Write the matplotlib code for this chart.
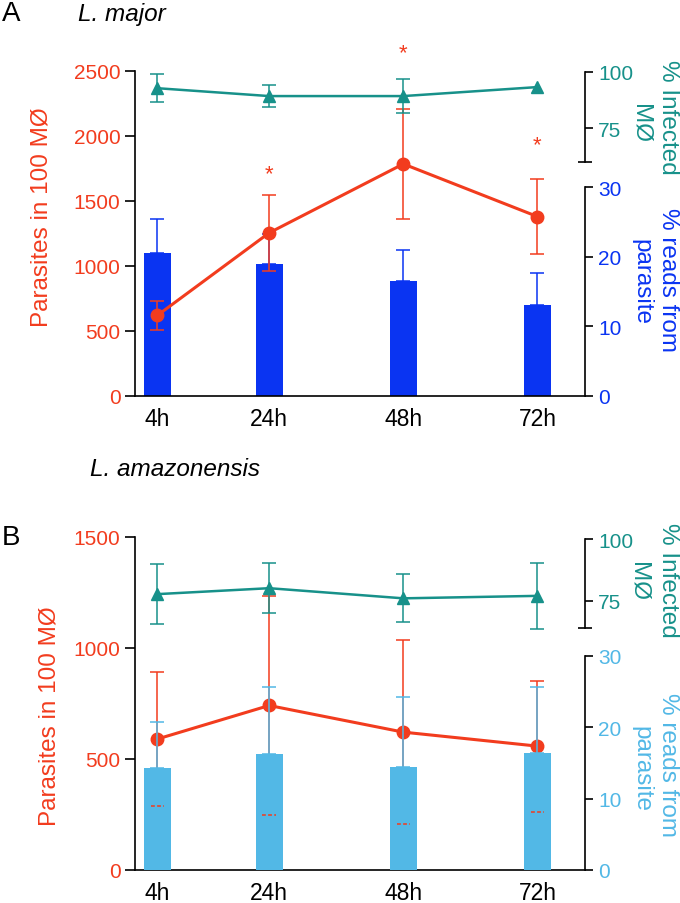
import numpy as np
import matplotlib
matplotlib.use('Agg')
import matplotlib.pyplot as plt

plt.rcParams['font.family'] = ['Liberation Sans', 'DejaVu Sans']

hours = [4, 24, 48, 72]
hour_labels = ['4h', '24h', '48h', '72h']

# panel A - L. major
major_parasites = [620, 1255, 1785, 1380]
major_parasites_err = [110, 290, 420, 290]
major_infected = [92.8, 89.3, 89.3, 93.3]
major_infected_err = [6.2, 4.8, 7.4, 0]
major_reads = [20.5, 18.9, 16.5, 13.0]
major_reads_err = [4.9, 4.3, 4.4, 4.6]
major_star_y = [None, 1710, 2640, 1930]

# panel B - L. amazonensis
amaz_parasites = [590, 741, 621, 558]
amaz_parasites_err = [300, 494, 415, 295]
amaz_infected = [77.7, 80.1, 76.0, 77.0]
amaz_infected_err = [12.2, 10.2, 9.7, 13.4]
amaz_reads = [14.3, 16.3, 14.5, 16.4]
amaz_reads_err = [6.5, 9.3, 9.7, 9.2]

red = '#F23C1E'
teal = '#17918A'
blue_a = '#0A34F2'
blue_b = '#52B8E6'

W, H = 680, 904
fig = plt.figure(figsize=(W/100, H/100), dpi=100)

def fpos(left, top, right, bottom):
    return [left/W, 1-bottom/H, (right-left)/W, (bottom-top)/H]

def panel(top, bottom, reads_top, inf_top, inf_bottom, par, par_err, pmax, pticks,
          inf, inf_err, inf_min, reads, reads_err, bar_col, red_on_top, stars=None):
    left, right = 135, 585
    ax = fig.add_axes(fpos(left, top, right, bottom))
    axr = fig.add_axes(fpos(left, reads_top, right, bottom))
    axi = fig.add_axes(fpos(left, inf_top, right, inf_bottom))
    if red_on_top:
        axr.set_zorder(1); ax.set_zorder(2); axi.set_zorder(3)
    else:
        ax.set_zorder(1); axr.set_zorder(2); axi.set_zorder(3)
    for a in (ax, axr, axi):
        a.set_xlim(0, 80.5)
        a.patch.set_visible(False)
        for s in a.spines.values():
            s.set_linewidth(1.2)

    # main axis: parasites
    ax.spines['top'].set_visible(False)
    ax.spines['right'].set_visible(False)
    ax.set_ylim(0, pmax)
    ax.set_yticks(pticks)
    ax.tick_params(axis='y', colors='black', labelcolor=red, labelsize=15, length=7, width=1.2)
    ax.set_xticks(hours)
    ax.set_xticklabels(hour_labels)
    ax.tick_params(axis='x', length=0, labelsize=16.5, pad=8)
    ax.errorbar(hours, par, yerr=par_err, color=red, lw=2.2, marker='o', ms=9,
                elinewidth=1.1, capsize=5, capthick=1.1, clip_on=False)
    if stars:
        for h, sy in zip(hours, stars):
            if sy is not None:
                ax.text(h, sy, '*', color=red, fontsize=16, ha='center', va='center')

    # reads axis: bars
    for s in ['top', 'left', 'bottom']:
        axr.spines[s].set_visible(False)
    axr.set_ylim(0, 30)
    axr.set_xticks([])
    axr.yaxis.tick_right()
    axr.set_yticks([0, 10, 20, 30])
    axr.set_yticks([30], minor=True)
    axr.tick_params(axis='y', which='major', labelcolor=bar_col, labelsize=15, length=6, width=1.2)
    axr.tick_params(axis='y', which='minor', direction='in', length=6, width=1.2)
    axr.bar(hours, reads, width=4.8, color=bar_col, linewidth=0, zorder=2)
    axr.errorbar(hours, reads, yerr=[np.zeros(len(reads)), reads_err], fmt='none',
                 ecolor=bar_col, elinewidth=1.1, capsize=5, capthick=1.1, zorder=1)
    if not red_on_top:
        lows = np.array(par) - np.array(par_err)
        for h, lo in zip(hours, lows):
            axr.plot([h-1.2, h+1.2], [lo, lo], color=red, lw=1.1, ls=(0, (2.5, 1.5)),
                     transform=ax.transData, zorder=3)

    # infected axis
    for s in ['top', 'left', 'bottom']:
        axi.spines[s].set_visible(False)
    axi.set_ylim(inf_min, 100)
    axi.set_xticks([])
    axi.yaxis.tick_right()
    axi.set_yticks([75, 100])
    axi.set_yticks([inf_min], minor=True)
    axi.tick_params(axis='y', which='major', labelcolor=teal, labelsize=15, length=6, width=1.2)
    axi.tick_params(axis='y', which='minor', direction='inout', length=10, width=1.2)
    ie = np.array(inf_err, dtype=float)
    axi.errorbar(hours, inf, yerr=np.where(ie > 0, ie, np.nan), color=teal, lw=1.8,
                 marker='^', ms=9, elinewidth=1.1, capsize=5, capthick=1.1, clip_on=False)
    return ax

panel(72, 397, 188, 73, 163, major_parasites, major_parasites_err, 2500,
      [0, 500, 1000, 1500, 2000, 2500], major_infected, major_infected_err, 60,
      major_reads, major_reads_err, blue_a, True, major_star_y)
panel(538, 871, 657, 540, 629, amaz_parasites, amaz_parasites_err, 1500,
      [0, 500, 1000, 1500], amaz_infected, amaz_infected_err, 64,
      amaz_reads, amaz_reads_err, blue_b, False)

# labels
fig.text(0.003, 1-14/H, 'A', fontsize=20, ha='left', va='center')
fig.text(78/W, 1-14/H, 'L. major', fontsize=17.5, style='italic', ha='left', va='center')
fig.text(0.003, 1-538/H, 'B', fontsize=20, ha='left', va='center')
fig.text(90/W, 1-470/H, 'L. amazonensis', fontsize=17.5, style='italic', ha='left', va='center')

fig.text(42/W, 1-217/H, 'Parasites in 100 MØ', color=red, fontsize=17.5, rotation=90, ha='center', va='center')
fig.text(50/W, 1-716/H, 'Parasites in 100 MØ', color=red, fontsize=17.5, rotation=90, ha='center', va='center')

lab = dict(fontsize=17.5, rotation=270, ha='center', va='center')
fig.text(668/W, 1-117/H, '% Infected', color=teal, **lab)
fig.text(640/W, 1-123/H, 'MØ', color=teal, **lab)
fig.text(668/W, 1-280/H, '% reads from', color=blue_a, **lab)
fig.text(641/W, 1-282/H, 'parasite', color=blue_a, **lab)
fig.text(668/W, 1-580/H, '% Infected', color=teal, **lab)
fig.text(639/W, 1-582/H, 'MØ', color=teal, **lab)
fig.text(668/W, 1-765/H, '% reads from', color=blue_b, **lab)
fig.text(641/W, 1-769/H, 'parasite', color=blue_b, **lab)

fig.savefig('out.png', dpi=100)
